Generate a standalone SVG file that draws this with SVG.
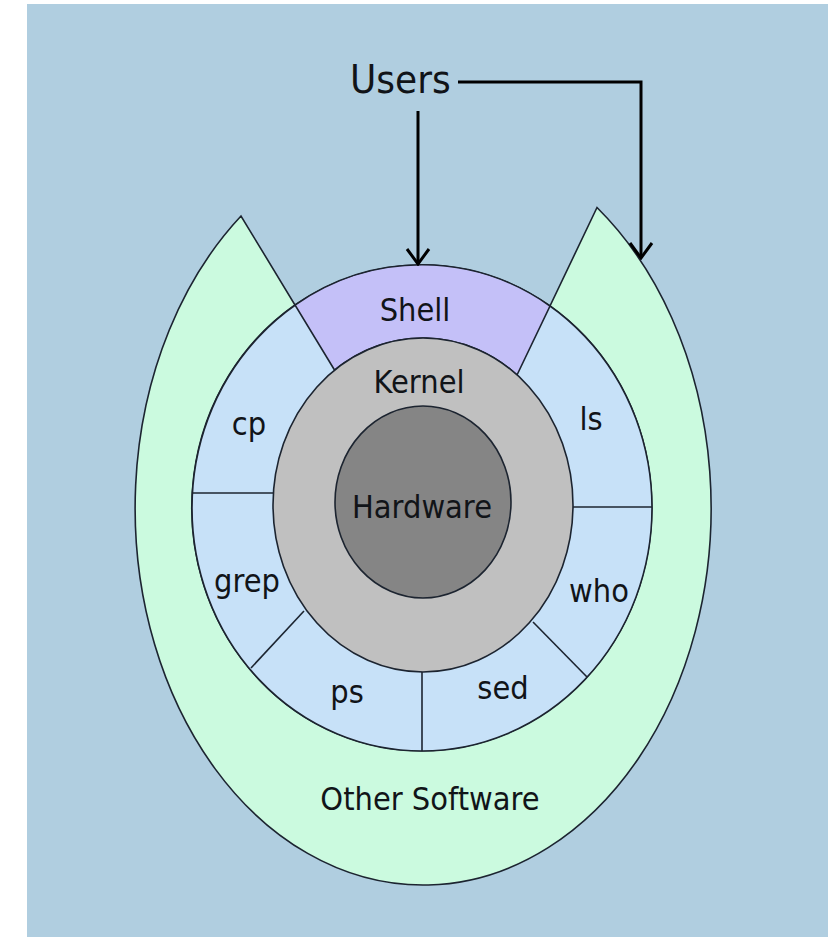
<svg xmlns="http://www.w3.org/2000/svg" width="828" height="937" viewBox="0 0 828 937">
  <defs>
    <style>
      .edge { stroke: #1c2430; stroke-width: 1.6; }
      .lbl { font-family: "DejaVu Sans", "Liberation Sans", sans-serif; font-size: 29px; fill: #111418; text-anchor: middle; }
      .conn { fill: none; stroke: #000; stroke-width: 3; }
    </style>
    <marker id="vhead" viewBox="-17 -13 19 26" refX="0" refY="0" markerWidth="19" markerHeight="26" markerUnits="userSpaceOnUse" orient="auto">
      <path d="M -15,-11 L 0,0 L -15,11" fill="none" stroke="#000" stroke-width="3"/>
    </marker>
  </defs>

  <rect x="0" y="0" width="828" height="937" fill="#ffffff"/>
  <rect x="27" y="4" width="801" height="933" fill="#b0cee0"/>

  <g id="other-software">
    <path class="edge" fill="#cbfadf" d="M 241,216 A 288 377 0 1 0 597,207.5 L 550,306 A 230 243 0 1 1 295,305 Z"/>
    <text class="lbl" transform="translate(430,810) scale(1,1.1)">Other Software</text>
  </g>

  <g id="commands-ring">
    <ellipse class="edge" cx="422" cy="508" rx="230" ry="243" fill="#c7e1f8"/>
    <line class="edge" x1="192.4" y1="493" x2="273.4" y2="493"/>
    <line class="edge" x1="572.8" y1="507" x2="652" y2="507"/>
    <line class="edge" x1="251" y1="668" x2="304" y2="611"/>
    <line class="edge" x1="533" y1="622" x2="587" y2="677"/>
    <line class="edge" x1="422" y1="672" x2="422" y2="751"/>
  </g>

  <g id="shell">
    <path class="edge" fill="#c4c0f8" d="M 295,305 A 230 243 0 0 1 550,306 L 517,375 A 150 167 0 0 0 334.5,370 Z"/>
    <text class="lbl" transform="translate(415,321) scale(1,1.1)">Shell</text>
  </g>

  <g id="kernel">
    <ellipse class="edge" cx="423" cy="505" rx="150" ry="167" fill="#c0c0c0"/>
    <text class="lbl" transform="translate(419,393) scale(1,1.1)">Kernel</text>
  </g>

  <g id="hardware">
    <ellipse class="edge" cx="423" cy="502" rx="88" ry="96" fill="#858585"/>
    <text class="lbl" transform="translate(422,518) scale(1,1.1)">Hardware</text>
  </g>

  <g id="cp"><text class="lbl" transform="translate(249,435) scale(1,1.1)">cp</text></g>
  <g id="ls"><text class="lbl" transform="translate(591,430) scale(1,1.1)">ls</text></g>
  <g id="grep"><text class="lbl" transform="translate(247,592) scale(1,1.1)">grep</text></g>
  <g id="who"><text class="lbl" transform="translate(599,602) scale(1,1.1)">who</text></g>
  <g id="ps"><text class="lbl" transform="translate(347,703) scale(1,1.1)">ps</text></g>
  <g id="sed"><text class="lbl" transform="translate(503,699) scale(1,1.1)">sed</text></g>

  <g id="users">
    <text transform="translate(350,93) scale(1,1.1)" font-family="DejaVu Sans, Liberation Sans, sans-serif" font-size="36" fill="#111418">Users</text>
  </g>

  <g id="connectors">
    <line class="conn" x1="418" y1="111" x2="418" y2="264" marker-end="url(#vhead)"/>
    <polyline class="conn" points="458,82 641,82 641,258" marker-end="url(#vhead)"/>
  </g>
</svg>
